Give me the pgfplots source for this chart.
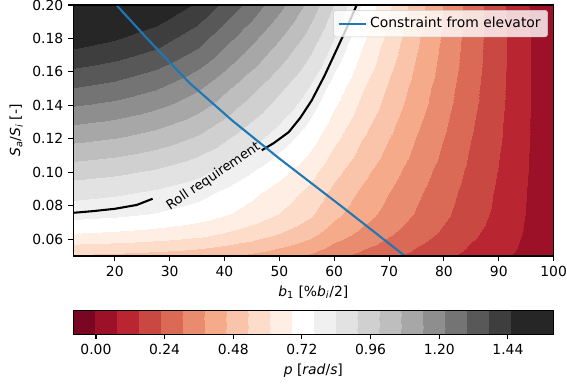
\documentclass[border=0pt]{standalone}
\usepackage{fontspec}
\setmainfont{DejaVu Sans}
\usepackage{pgfplots}
\pgfplotsset{compat=1.18}

\definecolor{mplblue}{HTML}{1F77B4}

% RdGy sampled at the centres of 21 bands (levels -0.08 ... 1.60, step 0.08)
\pgfplotsset{colormap={rdgybands}{
  rgb255=(121,6,34) rgb255=(157,17,40) rgb255=(185,38,50) rgb255=(202,72,66)
  rgb255=(218,106,85) rgb255=(233,139,110) rgb255=(245,170,137) rgb255=(249,196,169)
  rgb255=(253,221,202) rgb255=(254,238,228) rgb255=(255,255,255) rgb255=(240,240,240)
  rgb255=(226,226,226) rgb255=(208,208,208) rgb255=(190,190,190) rgb255=(167,167,167)
  rgb255=(142,142,142) rgb255=(116,116,116) rgb255=(88,88,88) rgb255=(62,62,62)
  rgb255=(38,38,38) rgb255=(38,38,38)}}

\begin{document}
\begin{tikzpicture}
\begin{axis}[
  name=main,
  view={0}{90},
  scale only axis,
  width=346pt, height=180.7pt,
  xmin=12.4, xmax=100, ymin=0.05, ymax=0.2,
  xtick={20,30,40,50,60,70,80,90,100},
  ytick={0.06,0.08,0.10,0.12,0.14,0.16,0.18,0.20},
  ztick=\empty,
  scaled y ticks=false,
  tick pos=left,
  tick align=outside,
  major tick length=3.5pt,
  every tick/.style={black, line width=0.8pt},
  axis line style={line width=0.8pt},
  axis on top,
  /pgf/number format/assume math mode=true,
  yticklabel style={/pgf/number format/.cd, fixed, fixed zerofill, precision=2},
  xticklabel style={/pgf/number format/.cd, fixed},
  xlabel={\textit{b}\textsubscript{1} [\%\textit{b}\textsubscript{\textit{i}}/2]},
  ylabel={\textit{S}\textsubscript{\textit{a}}/\textit{S}\textsubscript{\textit{i}} [-]},
  colormap name=rdgybands,
  colormap access=piecewise constant,
  point meta min=-0.08, point meta max=1.60,
  colorbar horizontal,
  colorbar style={
    at={(parent axis.south west)}, anchor=north west, yshift=-31pt,
    scale only axis, width=346pt, height=16.8pt,
    colormap access=piecewise constant,
    xtick={0,0.24,0.48,0.72,0.96,1.2,1.44},
    xtick pos=lower,
    tick align=outside,
    major tick length=3.5pt,
    every tick/.style={black, line width=0.8pt},
    axis line style={line width=0.8pt},
    /pgf/number format/assume math mode=true,
    xticklabel style={/pgf/number format/.cd, fixed, fixed zerofill, precision=2},
    xlabel={\textit{p} [\textit{rad}/\textit{s}]},
  },
  legend style={at={(0.988,0.98)}, anchor=north east, draw=black!20,
    rounded corners=2pt, fill=white, fill opacity=0.8, text opacity=1,
    inner sep=3pt, font=\fontsize{10}{12}\selectfont},
  legend cell align=left,
  legend image code/.code={\draw[#1] (0pt,0pt) -- (20pt,0pt);},
]
% roll rate p over aileron start b1 and area ratio Sa/Si
\addplot3[surf, shader=interp, mesh/cols=16, forget plot] table {
b1 S p
12.4 0.05 0.520
20 0.05 0.512
27.5 0.05 0.500
35 0.05 0.484
42.5 0.05 0.452
50 0.05 0.411
55 0.05 0.374
60 0.05 0.321
65 0.05 0.280
70 0.05 0.242
75 0.05 0.203
80 0.05 0.165
85 0.05 0.127
90 0.05 0.092
95 0.05 0.051
100 0.05 0.005
12.4 0.0625 0.675
20 0.0625 0.664
27.5 0.0625 0.648
35 0.0625 0.624
42.5 0.0625 0.581
50 0.0625 0.525
55 0.0625 0.479
60 0.0625 0.411
65 0.0625 0.357
70 0.0625 0.308
75 0.0625 0.258
80 0.0625 0.210
85 0.0625 0.161
90 0.0625 0.116
95 0.0625 0.064
100 0.0625 0.006
12.4 0.075 0.790
20 0.075 0.777
27.5 0.075 0.756
35 0.075 0.725
42.5 0.075 0.672
50 0.075 0.606
55 0.075 0.551
60 0.075 0.474
65 0.075 0.410
70 0.075 0.353
75 0.075 0.296
80 0.075 0.240
85 0.075 0.183
90 0.075 0.131
95 0.075 0.071
100 0.075 0.006
12.4 0.0875 0.862
20 0.0875 0.847
27.5 0.0875 0.823
35 0.0875 0.786
42.5 0.0875 0.724
50 0.0875 0.651
55 0.0875 0.592
60 0.0875 0.509
65 0.0875 0.440
70 0.0875 0.378
75 0.0875 0.316
80 0.0875 0.255
85 0.0875 0.195
90 0.0875 0.137
95 0.0875 0.074
100 0.0875 0.006
12.4 0.10 0.945
20 0.10 0.928
27.5 0.10 0.901
35 0.10 0.858
42.5 0.10 0.788
50 0.10 0.707
55 0.10 0.643
60 0.10 0.553
65 0.10 0.476
70 0.10 0.408
75 0.10 0.339
80 0.10 0.273
85 0.10 0.207
90 0.10 0.145
95 0.10 0.078
100 0.10 0.006
12.4 0.125 1.120
20 0.125 1.099
27.5 0.125 1.064
35 0.125 1.009
42.5 0.125 0.920
50 0.125 0.821
55 0.125 0.746
60 0.125 0.642
65 0.125 0.548
70 0.125 0.467
75 0.125 0.386
80 0.125 0.308
85 0.125 0.231
90 0.125 0.159
95 0.125 0.083
100 0.125 0.006
12.4 0.15 1.290
20 0.15 1.264
27.5 0.15 1.221
35 0.15 1.152
42.5 0.15 1.043
50 0.15 0.927
55 0.15 0.840
60 0.15 0.725
65 0.15 0.614
70 0.15 0.519
75 0.15 0.426
80 0.15 0.336
85 0.15 0.250
90 0.15 0.168
95 0.15 0.086
100 0.15 0.005
12.4 0.175 1.455
20 0.175 1.425
27.5 0.175 1.379
35 0.175 1.301
42.5 0.175 1.178
50 0.175 1.047
55 0.175 0.947
60 0.175 0.818
65 0.175 0.685
70 0.175 0.572
75 0.175 0.463
80 0.175 0.360
85 0.175 0.264
90 0.175 0.173
95 0.175 0.086
100 0.175 0.003
12.4 0.20 1.595
20 0.20 1.563
27.5 0.20 1.517
35 0.20 1.437
42.5 0.20 1.309
50 0.20 1.166
55 0.20 1.054
60 0.20 0.911
65 0.20 0.752
70 0.20 0.618
75 0.20 0.492
80 0.20 0.374
85 0.20 0.270
90 0.20 0.170
95 0.20 0.082
100 0.20 0.002
};

% roll requirement contour, split around its label
\addplot3[black, line width=1.5pt, forget plot] coordinates {
(12.4,0.0758,0) (16,0.0768,0) (20,0.0782,0) (24,0.0805,0) (26.9,0.0842,0)};
\addplot3[black, line width=1.5pt, forget plot] coordinates {
(46.8,0.1132,0) (49,0.1175,0) (51.7,0.1240,0) (53.8,0.1325,0) (55.9,0.1430,0)
(58.2,0.1575,0) (60.4,0.1730,0) (62.3,0.1865,0) (64.1,0.2000,0)};
\node[rotate=34, inner sep=0pt, font=\fontsize{9.5}{11}\selectfont]
  at (axis cs:38.0,0.0975,0) {Roll requirement};

% elevator constraint
\addplot3[mplblue, line width=1.5pt] coordinates {
(20.3,0.200,0) (26.6,0.1775,0) (33.6,0.1535,0) (41.4,0.1310,0)
(49.9,0.1085,0) (61.4,0.0795,0) (72.9,0.0500,0)};
\addlegendentry{Constraint from elevator}
\end{axis}
\pgfresetboundingbox
\path (main.south west) ++(-52.6pt,-92.9pt) rectangle ++(408.2pt,277.2pt);
\end{tikzpicture}
\end{document}
